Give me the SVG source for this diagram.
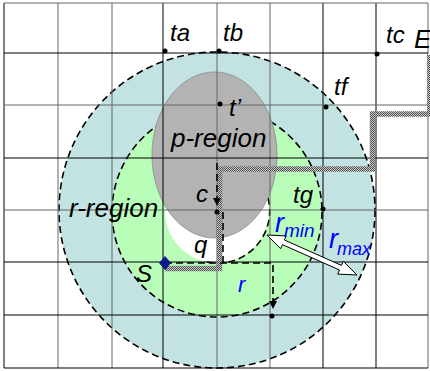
<svg xmlns="http://www.w3.org/2000/svg" width="430" height="371" viewBox="0 0 430 371">
<style>
  .lbl { font-family: "Liberation Sans", Arial, sans-serif; font-style: italic; fill: #000; }
  .blue { fill: #0000ff; }
  .dash { fill: none; stroke: #000; stroke-width: 1.6; stroke-dasharray: 7 4; }
  .gk { stroke: #000; stroke-width: 1; }
  .gg { stroke: #666; stroke-width: 1; }
  .dot { fill: #000; }
</style>
<defs>
  <pattern id="chk" width="2" height="2" patternUnits="userSpaceOnUse">
    <rect width="2" height="2" fill="#c8c8c8"/>
    <rect width="1" height="1" fill="#505050"/>
    <rect x="1" y="1" width="1" height="1" fill="#505050"/>
  </pattern>
  <marker id="ah" markerWidth="8" markerHeight="8" refX="7" refY="4" orient="auto" markerUnits="userSpaceOnUse">
    <path d="M0,0 L8,4 L0,8 Z" fill="#000"/>
  </marker>
</defs>
<rect width="430" height="371" fill="#fff"/>

<g id="r-region-area">
  <circle cx="217" cy="210" r="158" fill="#c2e3e2"/>
  <circle cx="217" cy="210" r="158" class="dash"/>
</g>
<g id="rmin-area">
  <circle cx="217" cy="212" r="105" fill="#b8fdb8"/>
  <circle cx="217" cy="212" r="105" class="dash"/>
</g>
<g id="q-area">
  <circle cx="217" cy="211" r="52" fill="#fff"/>
  <path d="M268,198 A52,52 0 0 1 207,262" class="dash"/>
</g>
<g id="p-region">
  <ellipse cx="214.5" cy="155" rx="62.5" ry="83" fill="#b3b3b3" stroke="#8a8a8a" stroke-width="0.8"/>
</g>

<g id="grid">
  <line x1="4" y1="3" x2="4" y2="368" class="gk"/>
  <line x1="58" y1="3" x2="58" y2="368" class="gg"/>
  <line x1="112" y1="3" x2="112" y2="368" class="gg"/>
  <line x1="163" y1="3" x2="163" y2="368" class="gk"/>
  <line x1="217" y1="3" x2="217" y2="368" class="gg"/>
  <line x1="270" y1="3" x2="270" y2="368" class="gg"/>
  <line x1="323" y1="3" x2="323" y2="368" class="gk"/>
  <line x1="376" y1="3" x2="376" y2="368" class="gk"/>
  <line x1="428" y1="3" x2="428" y2="368" class="gg"/>
  <line x1="4" y1="3" x2="428" y2="3" class="gg"/>
  <line x1="4" y1="53" x2="428" y2="53" class="gk"/>
  <line x1="4" y1="105" x2="428" y2="105" class="gg"/>
  <line x1="4" y1="158" x2="428" y2="158" class="gk"/>
  <line x1="4" y1="210" x2="428" y2="210" class="gg"/>
  <line x1="4" y1="262" x2="428" y2="262" class="gk"/>
  <line x1="4" y1="315" x2="428" y2="315" class="gk"/>
  <line x1="4" y1="368" x2="428" y2="368" class="gk"/>
</g>

<g id="connectors">
  <path id="route" d="M430,55 V114 H372.5 V169 H219.5 V268.5 H165" fill="none" stroke="url(#chk)" stroke-width="5.5"/>
  <path d="M217,163 V205" class="dash" marker-end="url(#ah)"/>
  <path d="M223,212 V262" class="dash"/>
  <path d="M165,263 H273 V308" class="dash" marker-end="url(#ah)"/>
  <polygon id="rarrow" points="267,235 280.6,248.7 282.4,244.6 339.5,270 337.7,274.1 357,275 343.3,261.3 341.5,265.4 284.4,240 286.2,235.9" fill="#fff" stroke="#000" stroke-width="1"/>
</g>

<g id="points">
  <circle cx="165" cy="51" r="2.5" class="dot"/>
  <circle cx="219" cy="51" r="2.5" class="dot"/>
  <circle cx="377" cy="54" r="2.5" class="dot"/>
  <circle cx="326" cy="107" r="2.5" class="dot"/>
  <circle cx="220" cy="104" r="2.5" class="dot"/>
  <circle cx="217" cy="212" r="2.5" class="dot"/>
  <circle cx="323" cy="209" r="2.5" class="dot"/>
  <circle cx="272" cy="316" r="2.5" class="dot"/>
  <polygon id="S-point" points="165,256 171,263 165,270 159,263" fill="#0a1a8a"/>
</g>

<g id="labels">
  <text x="170" y="41" class="lbl" font-size="24">ta</text>
  <text x="223" y="41" class="lbl" font-size="24">tb</text>
  <text x="386" y="43" class="lbl" font-size="24">tc</text>
  <text x="414" y="48" class="lbl" font-size="26">E</text>
  <text x="334" y="95" class="lbl" font-size="24">tf</text>
  <text x="229" y="116" class="lbl" font-size="24">t’</text>
  <text x="171" y="147" class="lbl" font-size="26">p-region</text>
  <text x="196" y="202" class="lbl" font-size="24">c</text>
  <text x="69" y="217" class="lbl" font-size="26">r-region</text>
  <text x="293" y="203" class="lbl" font-size="24">tg</text>
  <text x="194" y="253" class="lbl" font-size="24">q</text>
  <text x="136" y="282" class="lbl" font-size="24">S</text>
  <text x="238" y="292" class="lbl blue" font-size="22">r</text>
  <text x="275" y="232" class="lbl blue" font-size="27">r</text>
  <text x="284" y="237" class="lbl blue" font-size="19">min</text>
  <text x="329" y="248" class="lbl blue" font-size="27">r</text>
  <text x="337" y="255" class="lbl blue" font-size="18">max</text>
</g>
</svg>
